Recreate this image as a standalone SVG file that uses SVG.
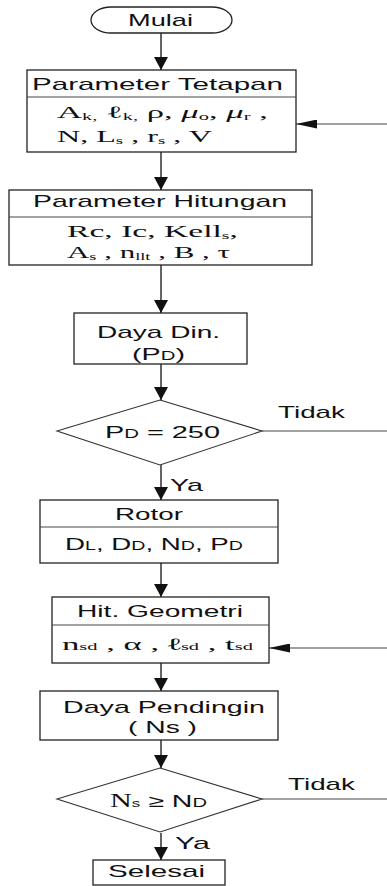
<svg xmlns="http://www.w3.org/2000/svg" width="387" height="886" viewBox="0 0 387 886">
  <style>
    .box { fill: #ffffff; stroke: #222222; stroke-width: 1.3; }
    .div { stroke: #444444; stroke-width: 1.1; fill: none; }
    .dec { fill: #ffffff; stroke: #333333; stroke-width: 1.1; }
    .ln { stroke: #111111; stroke-width: 1.3; fill: none; }
    .lnh { stroke: #444444; stroke-width: 1.1; fill: none; }
    .s { font-family: "Liberation Sans", Arial, sans-serif; font-size: 17px; fill: #111111; }
    .m { font-family: "Liberation Serif", "Times New Roman", serif; font-size: 17px; fill: #111111; }
    .sb { font-size: 10px; }
    .sc { font-size: 12px; }
  </style>
  <defs>
    <!-- downward flow arrowhead -->
    <marker id="arrV" markerUnits="userSpaceOnUse" markerWidth="14" markerHeight="14" refX="13" refY="7" orient="auto">
      <path d="M0,0 L13,7 L0,14 Z" fill="#111111"/>
    </marker>
    <!-- horizontal return arrowhead -->
    <marker id="arrH" markerUnits="userSpaceOnUse" markerWidth="22" markerHeight="9" refX="21" refY="4.5" orient="auto">
      <path d="M0,0 L21,4.5 L0,9 Z" fill="#111111"/>
    </marker>
  </defs>

  <g id="connectors">
    <line class="ln" x1="161" y1="33" x2="161" y2="70" marker-end="url(#arrV)"/>
    <line class="ln" x1="161" y1="152" x2="161" y2="190" marker-end="url(#arrV)"/>
    <line class="ln" x1="161" y1="265" x2="161" y2="313" marker-end="url(#arrV)"/>
    <line class="ln" x1="161" y1="364" x2="161" y2="400" marker-end="url(#arrV)"/>
    <line class="ln" x1="161" y1="465" x2="161" y2="500" marker-end="url(#arrV)"/>
    <line class="ln" x1="161" y1="563" x2="161" y2="597" marker-end="url(#arrV)"/>
    <line class="ln" x1="161" y1="663" x2="161" y2="691" marker-end="url(#arrV)"/>
    <line class="ln" x1="161" y1="740" x2="161" y2="768" marker-end="url(#arrV)"/>
    <line class="ln" x1="161" y1="833" x2="161" y2="860" marker-end="url(#arrV)"/>
    <!-- "Tidak" branches leaving to the right -->
    <line class="lnh" x1="262" y1="431" x2="387" y2="431"/>
    <line class="lnh" x1="262" y1="799" x2="387" y2="799"/>
    <!-- returns coming back from the right -->
    <line class="lnh" x1="387" y1="124" x2="296" y2="124" marker-end="url(#arrH)"/>
    <line class="lnh" x1="387" y1="648" x2="269" y2="648" marker-end="url(#arrH)"/>
    <text class="s" x="278" y="418" textLength="67" lengthAdjust="spacingAndGlyphs">Tidak</text>
    <text class="s" x="170" y="491" textLength="33" lengthAdjust="spacingAndGlyphs">Ya</text>
    <text class="s" x="288" y="790" textLength="67" lengthAdjust="spacingAndGlyphs">Tidak</text>
    <text class="s" x="175" y="849" textLength="35" lengthAdjust="spacingAndGlyphs">Ya</text>
  </g>

  <g id="mulai">
    <rect class="box" x="91" y="7" width="141" height="26" rx="20" ry="13"/>
    <text class="s" x="128" y="26" font-size="16" textLength="65" lengthAdjust="spacingAndGlyphs">Mulai</text>
  </g>

  <g id="parameter-tetapan">
    <rect class="box" x="27" y="70" width="269" height="82"/>
    <line class="div" x1="27" y1="97" x2="296" y2="97"/>
    <text class="s" x="32" y="90" textLength="251" lengthAdjust="spacingAndGlyphs">Parameter Tetapan</text>
    <text class="m" x="57" y="118" textLength="211" lengthAdjust="spacingAndGlyphs">A<tspan class="sb" dy="2">k,</tspan><tspan dy="-2"> ℓ</tspan><tspan class="sb" dy="2">k,</tspan><tspan dy="-2"> ρ, </tspan><tspan font-style="italic">μ</tspan><tspan class="sb" dy="2">o</tspan><tspan dy="-2">, </tspan><tspan font-style="italic">μ</tspan><tspan class="sb" dy="2">r</tspan><tspan dy="-2"> ,</tspan></text>
    <text class="m" x="57" y="142" textLength="155" lengthAdjust="spacingAndGlyphs">N, L<tspan class="sb" dy="2">s</tspan><tspan dy="-2"> , r</tspan><tspan class="sb" dy="2">s</tspan><tspan dy="-2"> , V</tspan></text>
  </g>

  <g id="parameter-hitungan">
    <rect class="box" x="9" y="190" width="303" height="75"/>
    <line class="div" x1="9" y1="217" x2="312" y2="217"/>
    <text class="s" x="33" y="207" textLength="254" lengthAdjust="spacingAndGlyphs">Parameter Hitungan</text>
    <text class="m" x="67" y="237" font-size="18" textLength="171" lengthAdjust="spacingAndGlyphs">Rc, Ic, Kell<tspan class="sb" dy="2">s</tspan><tspan dy="-2">,</tspan></text>
    <text class="m" x="67" y="258" font-size="18" textLength="163" lengthAdjust="spacingAndGlyphs">A<tspan class="sb" dy="2">s</tspan><tspan dy="-2"> , n</tspan><tspan class="sb" dy="2">llt</tspan><tspan dy="-2"> , B , τ</tspan></text>
  </g>

  <g id="daya-din">
    <rect class="box" x="74" y="313" width="173" height="51"/>
    <text class="s" x="97" y="338" textLength="123" lengthAdjust="spacingAndGlyphs">Daya Din.</text>
    <text class="s" x="132" y="360" textLength="53" lengthAdjust="spacingAndGlyphs">(P<tspan class="sc">D</tspan>)</text>
  </g>

  <g id="cek-daya">
    <polygon class="dec" points="160,400 262,431 160,465 57,431"/>
    <text class="s" x="105" y="438" textLength="115" lengthAdjust="spacingAndGlyphs">P<tspan class="sc">D</tspan> = 250</text>
  </g>

  <g id="rotor">
    <rect class="box" x="40" y="500" width="238" height="63"/>
    <line class="div" x1="40" y1="527" x2="278" y2="527"/>
    <text class="s" x="115" y="520" textLength="68" lengthAdjust="spacingAndGlyphs">Rotor</text>
    <text class="s" x="65" y="550" textLength="178" lengthAdjust="spacingAndGlyphs">D<tspan class="sc">L</tspan>, D<tspan class="sc">D</tspan>, N<tspan class="sc">D</tspan>, P<tspan class="sc">D</tspan></text>
  </g>

  <g id="hit-geometri">
    <rect class="box" x="52" y="597" width="217" height="66"/>
    <line class="div" x1="52" y1="625" x2="269" y2="625"/>
    <text class="s" x="77" y="617" textLength="166" lengthAdjust="spacingAndGlyphs">Hit. Geometri</text>
    <text class="m" x="62" y="650" textLength="191" lengthAdjust="spacingAndGlyphs">n<tspan class="sb">sd</tspan>  , α  , <tspan font-weight="bold">ℓ</tspan><tspan class="sb">sd</tspan> , t<tspan class="sb">sd</tspan></text>
  </g>

  <g id="daya-pendingin">
    <rect class="box" x="40" y="691" width="238" height="49"/>
    <text class="s" x="63" y="713" textLength="202" lengthAdjust="spacingAndGlyphs">Daya Pendingin</text>
    <text class="s" x="128" y="733" textLength="69" lengthAdjust="spacingAndGlyphs">( Ns )</text>
  </g>

  <g id="cek-pendingin">
    <polygon class="dec" points="160,768 262,799 160,832 57,799"/>
    <text class="s" x="110" y="807" textLength="97" lengthAdjust="spacingAndGlyphs"><tspan font-family="Liberation Serif, serif" font-size="18">N</tspan><tspan class="sb">s</tspan> ≥ N<tspan class="sc">D</tspan></text>
  </g>

  <g id="selesai">
    <rect class="box" x="93" y="860" width="132" height="25"/>
    <text class="s" x="108" y="877" textLength="97" lengthAdjust="spacingAndGlyphs">Selesai</text>
  </g>
</svg>
